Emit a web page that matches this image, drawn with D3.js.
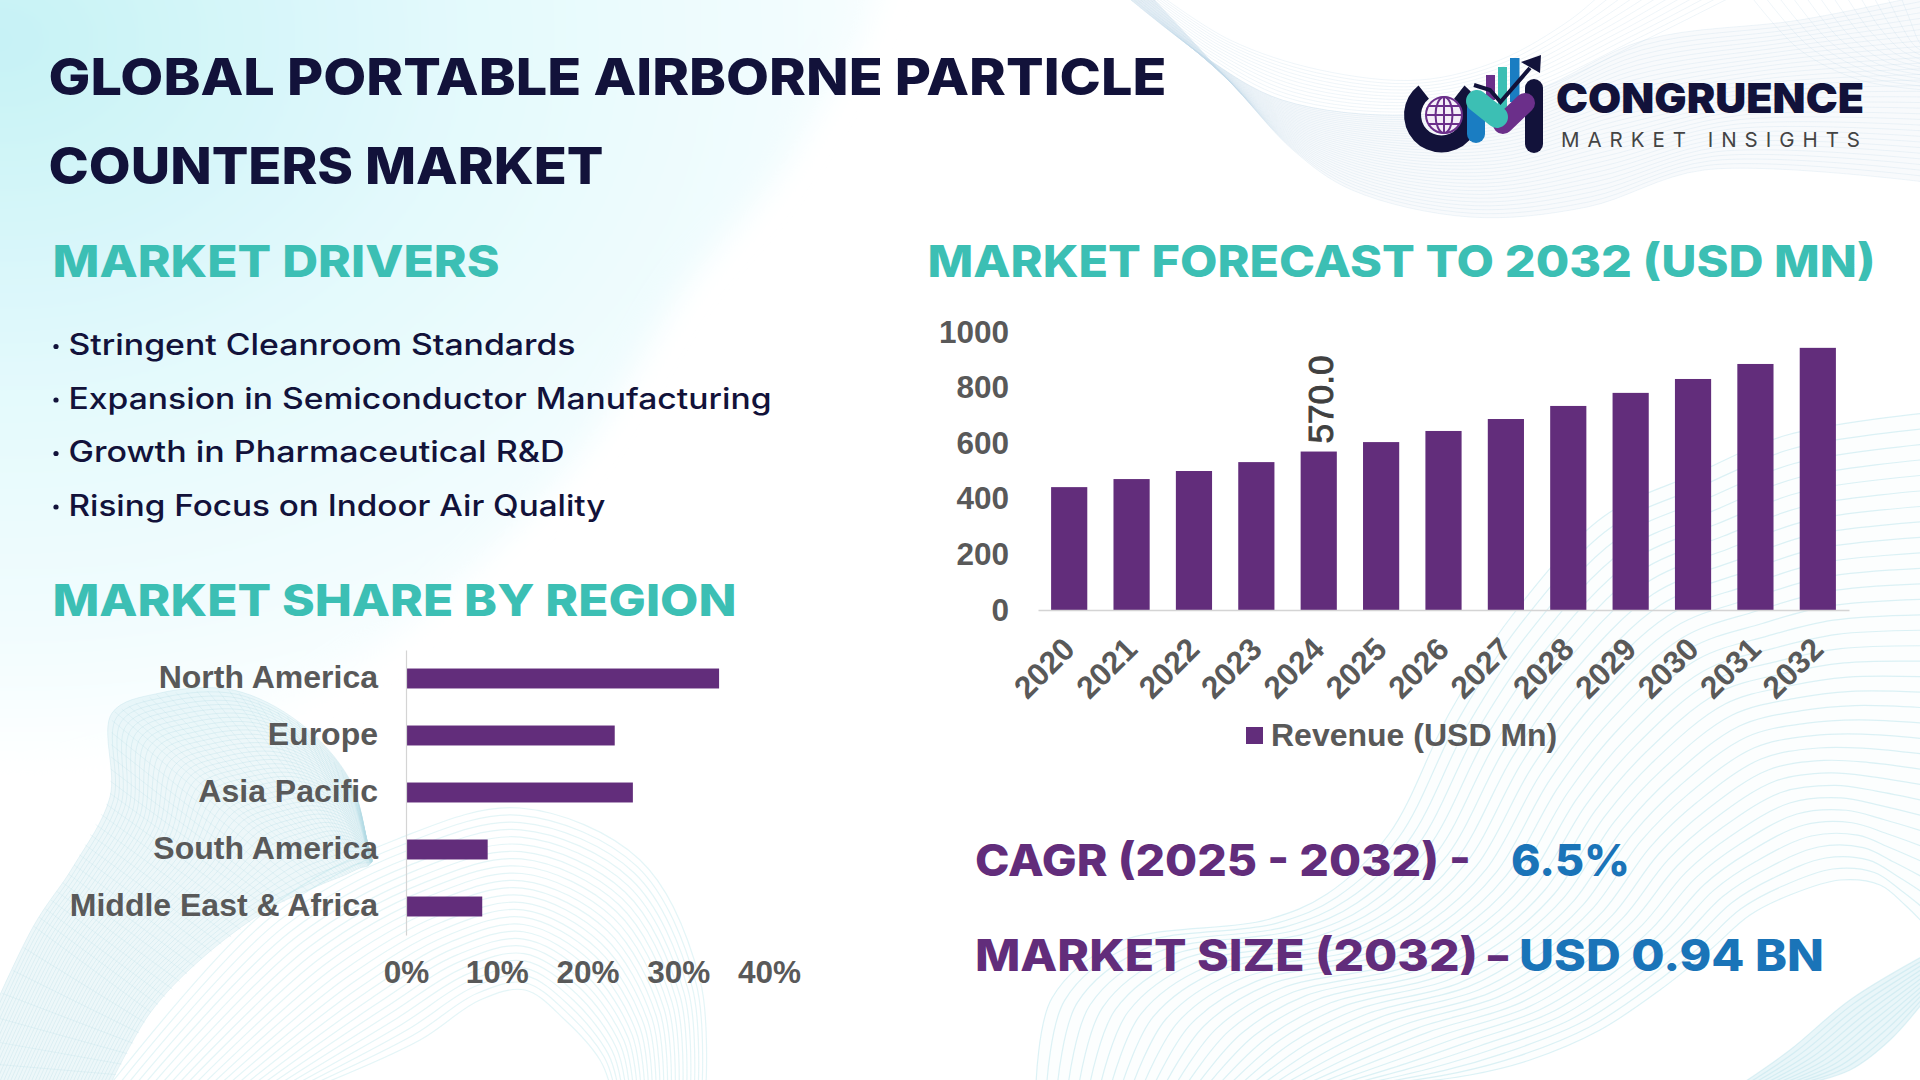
<!DOCTYPE html>
<html>
<head>
<meta charset="utf-8">
<title>Global Portable Airborne Particle Counters Market</title>
<script src="https://cdn.jsdelivr.net/npm/d3@7"></script>
<style>
html, body { margin: 0; padding: 0; background: #fff; }
svg { display: block; }
text { font-family: Inter, "Open Sans", sans-serif; }
.chart text { font-family: "Liberation Sans", Arial, sans-serif; font-weight: 700; fill: #595959; }
</style>
</head>
<body>
<svg id="page" width="1920" height="1080"></svg>
<script>
// chart values
var regions = ['North America', 'Europe', 'Asia Pacific', 'South America', 'Middle East & Africa'];
var regionShare = [34.5, 23, 25, 9, 8.4];
var shareTicks = [0, 10, 20, 30, 40];

var years = ['2020', '2021', '2022', '2023', '2024', '2025', '2026', '2027', '2028', '2029', '2030', '2031', '2032'];
var revenue = [442, 471, 500, 532, 570, 604, 644, 687, 734, 781, 831, 885, 943];
var revenueTicks = [0, 200, 400, 600, 800, 1000];
var labelledYear = '2024';

var drivers = [
	'Stringent Cleanroom Standards',
	'Expansion in Semiconductor Manufacturing',
	'Growth in Pharmaceutical R&D',
	'Rising Focus on Indoor Air Quality'
];

var navy = '#12123a', teal = '#3cbfb4', purple = '#622d7b', blue = '#1a74b8';

var svg = d3.select('#page');
var defs = svg.append('defs');

// ---- background ----
var wash = defs.append('radialGradient').attr('id', 'wash')
	.attr('gradientUnits', 'userSpaceOnUse')
	.attr('cx', 0).attr('cy', 0).attr('r', 980)
	.attr('gradientTransform', 'translate(0,40) scale(1,0.75)');
wash.append('stop').attr('offset', 0).attr('stop-color', '#c6f2f5');
wash.append('stop').attr('offset', 0.45).attr('stop-color', '#e2f9fc');
wash.append('stop').attr('offset', 0.85).attr('stop-color', '#f4fdfe');
wash.append('stop').attr('offset', 1).attr('stop-color', '#ffffff');
defs.append('filter').attr('id', 'soft')
	.attr('x', '-10%').attr('y', '-10%').attr('width', '120%').attr('height', '120%')
	.append('feGaussianBlur').attr('stdDeviation', 14);

svg.append('rect').attr('width', 1920).attr('height', 1080).attr('fill', '#fff');

var smooth = d3.line().curve(d3.curveCatmullRom.alpha(0.5));

svg.append('path')
	.attr('d', smooth([[-40, -40], [880, -40], [865, 33], [826, 100], [773, 183], [689, 283], [560, 480], [300, 700], [-40, 800]]) + 'Z')
	.attr('fill', 'url(#wash)')
	.attr('filter', 'url(#soft)');

// a ribbon is a bunch of thin lines running from one edge curve to another
function ribbon(a, b, n, color, opacity, width, tint) {
	if (tint) {
		svg.append('path')
			.attr('d', smooth(a) + 'L' + smooth(b.slice().reverse()).slice(1) + 'Z')
			.attr('fill', color).attr('fill-opacity', tint);
	}
	var g = svg.append('g').attr('fill', 'none').attr('stroke', color)
		.attr('stroke-opacity', opacity).attr('stroke-width', width);
	d3.range(n).forEach(function(k) {
		var t = k / (n - 1);
		g.append('path').attr('d', smooth(a.map(function(p, i) {
			return [p[0] + (b[i][0] - p[0]) * t, p[1] + (b[i][1] - p[1]) * t];
		})));
	});
}

// cross lines between the same two edges, for the woven look
function rungs(a, b, n, color, opacity, width) {
	var pa = d3.piecewise(a), pb = d3.piecewise(b);
	var g = svg.append('g').attr('fill', 'none').attr('stroke', color)
		.attr('stroke-opacity', opacity).attr('stroke-width', width);
	d3.range(n).forEach(function(k) {
		var s = k / (n - 1);
		g.append('path').attr('d', d3.line()([pa(s), pb(s)]));
	});
}

// bottom left hump
var humpTop = [[-40, 1085], [33, 927], [73, 867], [110, 797], [112, 713], [160, 693], [233, 690], [300, 723], [350, 780], [367, 840], [372, 860]];
var humpLow = [[110, 1085], [150, 1013], [200, 960], [267, 910], [320, 885], [345, 875], [360, 868], [368, 866], [370, 864], [371, 863], [372, 862]];
ribbon(humpTop, humpLow, 44, '#b2dce5', 0.3, 1, 0.24);
rungs(humpTop, humpLow, 70, '#b2dce5', 0.22, 1);

// arches under the bars
ribbon([[110, 1085], [267, 910], [400, 838], [520, 808], [640, 860], [700, 980], [706, 1085]],
	[[320, 1085], [420, 1040], [480, 1000], [525, 990], [565, 1020], [600, 1060], [610, 1085]],
	26, '#a6dde3', 0.3, 1.2);

// big wave, bottom right
ribbon([[1036, 1085], [1052, 998], [1119, 942], [1266, 920], [1327, 894], [1389, 834], [1450, 712], [1511, 617], [1603, 517], [1695, 474], [1787, 435], [1925, 413]],
	[[1390, 1085], [1470, 1075], [1530, 1060], [1600, 1030], [1660, 990], [1710, 950], [1750, 915], [1790, 895], [1840, 880], [1880, 885], [1905, 905], [1925, 925]],
	34, '#a6dcE8', 0.38, 1.2, 0.04);
ribbon([[1740, 1085], [1790, 1050], [1850, 1000], [1925, 955]],
	[[1800, 1085], [1850, 1070], [1890, 1040], [1925, 1000]],
	12, '#bfe6ee', 0.5, 1.2, 0.35);

// top right
ribbon([[1125, -5], [1205, 57], [1282, 100], [1410, 115], [1528, 93], [1645, 40], [1800, 20], [1925, -5]],
	[[1150, -5], [1235, 87], [1293, 150], [1352, 190], [1470, 217], [1587, 207], [1704, 170], [1925, 182]],
	34, '#c3d7e8', 0.26, 1, 0.12);
ribbon([[1160, -5], [1230, 40], [1320, 70], [1420, 80], [1500, 60], [1570, 20], [1600, -5]],
	[[1125, -5], [1205, 57], [1282, 100], [1410, 115], [1528, 93], [1645, 40], [1735, -5]],
	12, '#c3d7e8', 0.26, 1);
ribbon([[1750, -5], [1800, 50], [1860, 80], [1925, 90]],
	[[1900, -5], [1910, 20], [1918, 40], [1925, 50]],
	12, '#c3d7e8', 0.26, 1);

// ---- headings ----
// textLength keeps the substitute font to the width of the original lettering
function heading(str, x, y, w, size, weight, color) {
	return svg.append('text')
		.attr('x', x).attr('y', y)
		.attr('textLength', w).attr('lengthAdjust', 'spacingAndGlyphs')
		.style('font-size', size + 'px').style('font-weight', weight)
		.attr('fill', color).text(str);
}

heading('GLOBAL PORTABLE AIRBORNE PARTICLE', 48.5, 95, 1118, 51, 800, navy);
heading('COUNTERS MARKET', 48.5, 184, 555, 51, 800, navy);
heading('MARKET DRIVERS', 52.5, 277, 447, 44, 800, teal);
heading('MARKET SHARE BY REGION', 52.5, 616, 684, 44, 800, teal);
heading('MARKET FORECAST TO 2032 (USD MN)', 927.5, 277, 948, 44, 800, teal);

var driverWidths = [507, 703, 496, 537];
drivers.forEach(function(d, i) {
	var y = 355 + i * 53.5;
	svg.append('circle').attr('cx', 56).attr('cy', y - 8.5).attr('r', 2.6).attr('fill', navy);
	heading(d, 68.5, y, driverWidths[i], 29.5, 500, navy);
});

heading('CAGR (2025 - 2032) -', 975, 876, 496, 44, 800, purple);
heading('6.5%', 1511, 876, 119, 44, 800, blue);
heading('MARKET SIZE (2032)', 975, 971, 503, 44, 800, purple);
heading('\u2013', 1488, 971, 20, 44, 800, purple);
heading('USD 0.94 BN', 1519, 971, 305, 44, 800, blue);

// ---- market share chart ----
var share = svg.append('g').attr('class', 'chart');
var shareX = d3.scaleLinear().domain([0, 40]).range([406, 769]);
var shareY = d3.scaleBand().domain(regions).range([650, 935]).paddingInner(0.65).paddingOuter(0.325);

share.selectAll('rect').data(regions).enter().append('rect')
	.attr('x', shareX(0))
	.attr('y', function(d) { return shareY(d); })
	.attr('width', function(d, i) { return shareX(regionShare[i]) - shareX(0); })
	.attr('height', shareY.bandwidth())
	.attr('fill', purple);

var shareYAxis = share.append('g').attr('transform', 'translate(' + shareX(0) + ',0)')
	.call(d3.axisLeft(shareY).tickSize(0).tickPadding(28));
shareYAxis.select('.domain').attr('stroke', '#d4d4d4').attr('stroke-width', 1.2);
shareYAxis.selectAll('text').style('font-size', '32px').attr('dy', '0.29em');

var shareXAxis = share.append('g').attr('transform', 'translate(0,961)')
	.call(d3.axisBottom(shareX).tickValues(shareTicks).tickSize(0).tickPadding(0)
		.tickFormat(function(d) { return d + '%'; }));
shareXAxis.select('.domain').remove();
shareXAxis.selectAll('text').style('font-size', '31.5px').attr('dy', '0.71em');

// ---- forecast chart ----
var forecast = svg.append('g').attr('class', 'chart');
var forecastX = d3.scaleBand().domain(years).range([1038, 1849]).paddingInner(0.42).paddingOuter(0.21);
var forecastY = d3.scaleLinear().domain([0, 1000]).range([610, 332]);

forecast.selectAll('rect').data(years).enter().append('rect')
	.attr('x', function(d) { return forecastX(d); })
	.attr('y', function(d, i) { return forecastY(revenue[i]); })
	.attr('width', forecastX.bandwidth())
	.attr('height', function(d, i) { return forecastY(0) - forecastY(revenue[i]); })
	.attr('fill', purple);

var revenueAxis = forecast.append('g').attr('transform', 'translate(1009,0)')
	.call(d3.axisLeft(forecastY).tickValues(revenueTicks).tickSize(0).tickPadding(0).tickFormat(d3.format('d')));
revenueAxis.select('.domain').remove();
revenueAxis.selectAll('text').style('font-size', '31.5px');

var yearAxis = forecast.append('g').attr('transform', 'translate(0,610)')
	.call(d3.axisBottom(forecastX).tickSize(0));
yearAxis.select('.domain').attr('stroke', '#d4d4d4').attr('stroke-width', 1.5);
yearAxis.selectAll('text')
	.style('font-size', '31.5px')
	.style('text-anchor', 'end')
	.attr('y', 0).attr('dy', 0)
	.attr('transform', 'translate(7.5,41) rotate(-45)');

var labelIndex = years.indexOf(labelledYear);
forecast.append('text')
	.attr('transform', 'translate(' + (forecastX(labelledYear) + forecastX.bandwidth() / 2 + 14) + ',' + (forecastY(revenue[labelIndex]) - 8) + ') rotate(-90)')
	.attr('textLength', 88).attr('lengthAdjust', 'spacingAndGlyphs')
	.style('font-size', '34.5px').style('font-weight', 400).style('fill', '#404040')
	.style('stroke', '#404040').style('stroke-width', 0.9)
	.text(d3.format('.1f')(revenue[labelIndex]));

// legend
forecast.append('rect').attr('x', 1246).attr('y', 727).attr('width', 17).attr('height', 17).attr('fill', purple);
forecast.append('text').attr('x', 1271).attr('y', 746).style('font-size', '32px').text('Revenue (USD Mn)');

// ---- logo ----
var logo = svg.append('g').attr('fill', 'none');
var arcC = d3.arc().innerRadius(20.5).outerRadius(37.5).startAngle(0.66).endAngle(Math.PI * 2 - 0.66);
logo.append('path').attr('d', arcC()).attr('transform', 'translate(1441.5,115)').attr('fill', navy);

var globe = logo.append('g').attr('transform', 'translate(1444,115)').attr('stroke', '#6b2f8a').attr('stroke-width', 2);
globe.append('circle').attr('r', 18).attr('fill', '#f4eef8');
globe.append('ellipse').attr('rx', 8.5).attr('ry', 18);
[-9, 0, 9].forEach(function(dy) {
	var half = Math.sqrt(18 * 18 - dy * dy);
	globe.append('line').attr('x1', -half).attr('x2', half).attr('y1', dy).attr('y2', dy);
});
globe.append('line').attr('y1', -18).attr('y2', 18);

[[1486, 75, 9, 25, '#6b2f8a'], [1498, 67, 9, 42, teal], [1510, 58, 9.5, 44, '#1a7dc2']].forEach(function(b) {
	logo.append('rect').attr('x', b[0]).attr('y', b[1]).attr('width', b[2]).attr('height', b[3]).attr('fill', b[4]);
});

function stroke(points, color, w, cap) {
	logo.append('path').attr('d', d3.line()(points)).attr('stroke', color)
		.attr('stroke-width', w).attr('stroke-linecap', cap || 'round');
}
stroke([[1476, 108], [1476, 134]], '#1a7dc2', 18);
stroke([[1534, 88], [1534, 144]], navy, 18);
stroke([[1525, 103], [1503, 124]], '#6b2f8a', 20);
stroke([[1477, 101], [1497, 117]], teal, 22);
stroke([[1474, 85], [1490, 90], [1500.5, 102], [1530, 68]], navy, 4, 'butt');
logo.append('path').attr('d', 'M1521,62L1541,55L1540,73Z').attr('fill', navy);

heading('CONGRUENCE', 1556, 113, 308, 40.5, 900, navy);
svg.append('text').attr('x', 1561).attr('y', 146.7)
	.attr('textLength', 299).attr('lengthAdjust', 'spacing')
	.style('font-size', '20.5px').style('font-weight', 400).attr('fill', '#444')
	.text('MARKET INSIGHTS');
</script>
</body>
</html>
